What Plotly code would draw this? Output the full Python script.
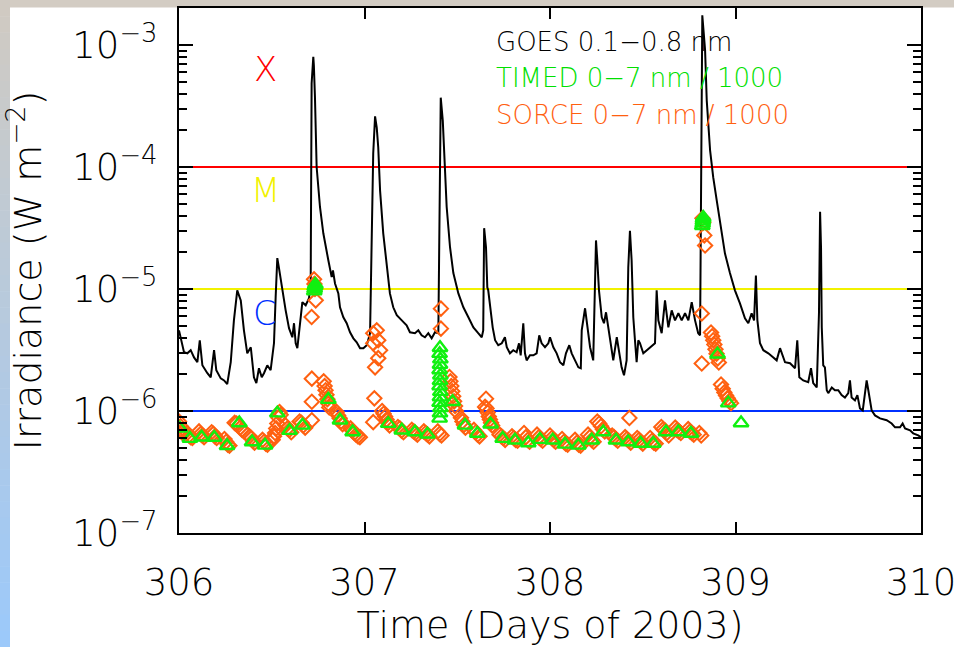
import math
import plotly.graph_objects as go

# ---------------- data ----------------
goes_day = [306.000, 306.018, 306.027, 306.045, 306.063, 306.081, 306.099, 306.112, 306.126, 306.153,
            306.171, 306.189, 306.201, 306.225, 306.243, 306.260, 306.279, 306.296, 306.314, 306.333,
            306.350, 306.368, 306.387, 306.404, 306.417, 306.431, 306.446, 306.458, 306.476, 306.494,
            306.512, 306.521, 306.530, 306.539, 306.557, 306.575, 306.593, 306.611, 306.620, 306.629,
            306.638, 306.647, 306.656, 306.665, 306.683, 306.701, 306.710, 306.713, 306.715, 306.724,
            306.727, 306.733, 306.742, 306.760, 306.778, 306.805, 306.823, 306.830, 306.841, 306.859,
            306.868, 306.886, 306.904, 306.922, 306.940, 306.958, 306.976, 306.994, 307.012, 307.030,
            307.039, 307.047, 307.057, 307.066, 307.074, 307.084, 307.101, 307.120, 307.137, 307.155,
            307.174, 307.201, 307.227, 307.245, 307.272, 307.290, 307.308, 307.326, 307.344, 307.362,
            307.380, 307.398, 307.403, 307.411, 307.422, 307.434, 307.443, 307.461, 307.479, 307.506,
            307.533, 307.560, 307.587, 307.613, 307.632, 307.640, 307.645, 307.655, 307.662, 307.667,
            307.677, 307.691, 307.704, 307.721, 307.740, 307.757, 307.767, 307.784, 307.802, 307.820,
            307.833, 307.842, 307.856, 307.865, 307.874, 307.892, 307.910, 307.928, 307.942, 307.955,
            307.973, 307.991, 308.000, 308.018, 308.036, 308.054, 308.072, 308.086, 308.104, 308.117,
            308.135, 308.153, 308.166, 308.171, 308.189, 308.198, 308.216, 308.233, 308.243, 308.248,
            308.255, 308.264, 308.279, 308.291, 308.302, 308.314, 308.327, 308.341, 308.360, 308.374,
            308.386, 308.399, 308.413, 308.422, 308.431, 308.440, 308.449, 308.458, 308.467, 308.476,
            308.485, 308.503, 308.521, 308.539, 308.566, 308.575, 308.584, 308.602, 308.620, 308.638,
            308.656, 308.674, 308.692, 308.710, 308.728, 308.746, 308.764, 308.782, 308.799, 308.809,
            308.814, 308.821, 308.836, 308.845, 308.863, 308.880, 308.899, 308.916, 308.943, 308.970,
            308.997, 309.024, 309.051, 309.069, 309.087, 309.100, 309.110, 309.118, 309.132, 309.150,
            309.177, 309.204, 309.222, 309.240, 309.267, 309.294, 309.321, 309.333, 309.344, 309.365,
            309.392, 309.407, 309.419, 309.438, 309.450, 309.456, 309.461, 309.465, 309.473, 309.482,
            309.492, 309.500, 309.519, 309.536, 309.554, 309.572, 309.590, 309.608, 309.617, 309.626,
            309.644, 309.657, 309.671, 309.686, 309.698, 309.707, 309.716, 309.734, 309.752, 309.779,
            309.815, 309.842, 309.860, 309.887, 309.901, 309.914, 309.941, 309.958, 309.985, 310.000]
goes_flux = [4.58e-6, 3.59e-6, 3.03e-6, 2.97e-6, 3.15e-6, 2.75e-6, 2.51e-6, 3.80e-6, 2.37e-6, 2.04e-6,
             1.89e-6, 3.15e-6, 2.16e-6, 1.85e-6, 1.78e-6, 1.66e-6, 2.51e-6, 5.53e-6, 9.75e-6, 8.07e-6,
             4.58e-6, 2.97e-6, 3.33e-6, 1.89e-6, 1.69e-6, 2.24e-6, 1.89e-6, 2.04e-6, 2.37e-6, 2.16e-6,
             3.59e-6, 8.55e-6, 1.79e-5, 1.48e-5, 9.75e-6, 6.68e-6, 4.77e-6, 4.02e-6, 5.24e-6, 3.59e-6,
             3.27e-6, 4.34e-6, 6.32e-6, 7.80e-6, 7.35e-6, 8.40e-6, 1.18e-5, 5.00e-5, 4.85e-4, 8.00e-4,
             6.80e-4, 3.70e-4, 1.00e-4, 4.70e-5, 2.86e-5, 1.72e-5, 1.25e-5, 1.42e-5, 1.11e-5, 9.20e-6,
             7.08e-6, 5.86e-6, 5.24e-6, 4.42e-6, 3.94e-6, 3.66e-6, 3.27e-6, 3.27e-6, 3.46e-6, 4.34e-6,
             2.20e-5, 1.29e-4, 2.60e-4, 2.10e-4, 1.45e-4, 6.40e-5, 2.86e-5, 1.50e-5, 9.20e-6, 7.08e-6,
             6.09e-6, 5.53e-6, 5.04e-6, 4.42e-6, 4.34e-6, 4.58e-6, 4.17e-6, 4.02e-6, 4.34e-6, 3.94e-6,
             4.42e-6, 4.34e-6, 2.50e-5, 3.70e-4, 2.40e-4, 1.00e-4, 4.70e-5, 2.20e-5, 1.35e-5, 9.20e-6,
             7.08e-6, 5.86e-6, 4.85e-6, 4.34e-6, 4.02e-6, 4.58e-6, 3.15e-5, 2.20e-5, 1.03e-5, 9.75e-6,
             7.08e-6, 4.85e-6, 3.80e-6, 3.46e-6, 3.59e-6, 4.02e-6, 3.33e-6, 2.97e-6, 3.15e-6, 3.03e-6,
             3.59e-6, 2.86e-6, 5.24e-6, 2.97e-6, 2.60e-6, 2.86e-6, 2.86e-6, 2.97e-6, 4.17e-6, 3.59e-6,
             3.33e-6, 3.59e-6, 4.02e-6, 3.33e-6, 2.97e-6, 2.51e-6, 2.37e-6, 2.97e-6, 3.46e-6, 2.97e-6,
             2.60e-6, 2.28e-6, 2.24e-6, 4.58e-6, 6.95e-6, 5.53e-6, 3.33e-6, 2.60e-6, 9.75e-6, 2.50e-5,
             1.72e-5, 9.75e-6, 5.86e-6, 5.24e-6, 6.44e-6, 4.85e-6, 3.80e-6, 2.60e-6, 4.02e-6, 2.97e-6,
             2.28e-6, 1.96e-6, 2.60e-6, 1.50e-5, 3.00e-5, 1.72e-5, 5.86e-6, 3.80e-6, 2.51e-6, 3.80e-6,
             3.59e-6, 2.97e-6, 3.15e-6, 3.33e-6, 3.59e-6, 9.75e-6, 5.53e-6, 4.34e-6, 8.07e-6, 4.85e-6,
             6.68e-6, 5.53e-6, 6.32e-6, 5.53e-6, 6.32e-6, 5.53e-6, 7.80e-6, 5.53e-6, 4.34e-6, 4.17e-6,
             5.30e-5, 1.75e-3, 9.10e-4, 3.50e-4, 1.37e-4, 8.20e-5, 5.30e-5, 3.65e-5, 1.96e-5, 1.35e-5,
             9.75e-6, 7.63e-6, 5.75e-6, 5.24e-6, 6.32e-6, 5.53e-6, 1.29e-5, 5.53e-6, 3.59e-6, 3.15e-6,
             2.97e-6, 2.75e-6, 2.60e-6, 3.27e-6, 2.51e-6, 2.46e-6, 2.24e-6, 3.80e-6, 1.89e-6, 1.78e-6,
             1.72e-6, 2.24e-6, 1.69e-6, 1.56e-6, 6.32e-6, 4.30e-5, 2.20e-5, 4.85e-6, 2.37e-6, 2.28e-6,
             1.48e-6, 1.40e-6, 1.56e-6, 1.48e-6, 1.48e-6, 1.35e-6, 1.29e-6, 1.40e-6, 1.78e-6, 1.29e-6,
             1.22e-6, 1.35e-6, 1.05e-6, 1.01e-6, 1.48e-6, 1.78e-6, 1.48e-6, 1.01e-6, 9.20e-7, 8.70e-7,
             8.40e-7, 7.90e-7, 7.35e-7, 7.35e-7, 7.90e-7, 7.20e-7, 6.95e-7, 6.56e-7, 6.32e-7, 6.10e-7]

timed_day = [306.005, 306.059, 306.122, 306.190, 306.259, 306.325, 306.394, 306.464, 306.530, 306.596,
             306.666, 306.729, 306.731, 306.732, 306.734, 306.735,
             306.805, 306.868, 306.936, 307.128, 307.201, 307.272, 307.339,
             307.405, 307.407, 307.409, 307.405, 307.407, 307.409, 307.405, 307.407, 307.409, 307.405,
             307.407, 307.409, 307.405, 307.407,
             307.475, 307.542, 307.608, 307.680, 307.745, 307.811, 307.883, 307.946, 308.015, 308.081,
             308.153, 308.225, 308.287, 308.356, 308.422, 308.489, 308.557, 308.625, 308.692, 308.760,
             308.821, 308.823, 308.824, 308.825, 308.826,
             308.903, 308.961, 309.030]
timed_flux = [7.20e-7, 5.94e-7, 6.10e-7, 6.06e-7, 5.19e-7, 7.97e-7, 5.57e-7, 5.23e-7, 9.60e-7, 6.90e-7,
              7.63e-7, 9.60e-6, 1.00e-5, 1.04e-5, 1.07e-5, 1.09e-5,
              1.24e-6, 8.39e-7, 6.73e-7, 7.88e-7, 6.95e-7, 6.73e-7, 6.44e-7,
              8.70e-7, 9.60e-7, 1.06e-6, 1.17e-6, 1.30e-6, 1.44e-6, 1.60e-6, 1.77e-6, 1.96e-6, 2.17e-6,
              2.40e-6, 2.66e-6, 2.95e-6, 3.30e-6,
              1.19e-6, 7.63e-7, 6.53e-7, 7.78e-7, 5.94e-7, 5.75e-7, 5.47e-7, 5.83e-7, 5.75e-7, 5.33e-7,
              5.23e-7, 5.75e-7, 6.73e-7, 5.75e-7, 5.57e-7, 5.41e-7, 5.41e-7, 6.73e-7, 6.73e-7, 6.53e-7,
              3.30e-5, 3.45e-5, 3.60e-5, 3.75e-5, 3.85e-5,
              2.92e-6, 1.16e-6, 7.97e-7]

sorce_day = [306.000, 306.008, 306.016, 306.024,
             306.045, 306.054, 306.063, 306.072,
             306.108, 306.117, 306.126, 306.135,
             306.176, 306.185, 306.194, 306.203,
             306.245, 306.254, 306.263, 306.272,
             306.300, 306.310, 306.320, 306.330, 306.340, 306.350,
             306.380, 306.389, 306.398, 306.407,
             306.450, 306.459, 306.468, 306.477,
             306.505, 306.512, 306.518, 306.524, 306.530, 306.536, 306.542, 306.548,
             306.575, 306.585, 306.595, 306.605,
             306.650, 306.660, 306.670, 306.680,
             306.716, 306.716, 306.716, 306.715, 306.737, 306.728, 306.730, 306.733,
             306.780, 306.785, 306.790, 306.795, 306.800, 306.805, 306.810,
             306.850, 306.858, 306.866, 306.874, 306.882,
             306.925, 306.935, 306.945, 306.955, 306.965, 306.975,
             307.066, 307.047, 307.074, 307.047, 307.084, 307.074, 307.057, 307.053, 307.047,
             307.095, 307.103, 307.111, 307.119, 307.127, 307.135,
             307.180, 307.190, 307.200, 307.210,
             307.255, 307.265, 307.275, 307.285,
             307.320, 307.330, 307.340, 307.350,
             307.395, 307.405, 307.415, 307.412, 307.412,
             307.458, 307.463, 307.468, 307.473, 307.478, 307.483, 307.488, 307.493,
             307.520, 307.528, 307.536, 307.544,
             307.590, 307.600, 307.610, 307.620,
             307.655, 307.650, 307.658, 307.664, 307.670, 307.676, 307.682, 307.688,
             307.728, 307.738, 307.748, 307.758,
             307.795, 307.805, 307.815, 307.825,
             307.860, 307.870, 307.880, 307.890,
             307.930, 307.940, 307.950, 307.960,
             308.000, 308.010, 308.020, 308.030,
             308.065, 308.075, 308.085, 308.095,
             308.135, 308.145, 308.155, 308.165,
             308.205, 308.215, 308.225, 308.235,
             308.255, 308.265, 308.275, 308.285, 308.295,
             308.335, 308.345, 308.355, 308.365,
             308.405, 308.415, 308.425, 308.435, 308.428,
             308.470, 308.480, 308.490, 308.500,
             308.540, 308.550, 308.560, 308.570,
             308.600, 308.610, 308.620, 308.630, 308.640,
             308.675, 308.685, 308.695, 308.705,
             308.745, 308.755, 308.765, 308.775, 308.805, 308.815,
             308.822, 308.826, 308.832, 308.836, 308.818, 308.818,
             308.868, 308.874, 308.880, 308.886, 308.892, 308.898, 308.904, 308.910,
             308.922, 308.931, 308.940, 308.949, 308.958, 308.967, 308.976]
sorce_flux = [8.2e-7, 7.5e-7, 6.9e-7, 6.5e-7,
              6.6e-7, 6.3e-7, 6.1e-7, 6.0e-7,
              6.8e-7, 6.5e-7, 6.3e-7, 6.1e-7,
              6.7e-7, 6.5e-7, 6.2e-7, 6.0e-7,
              5.9e-7, 5.6e-7, 5.3e-7, 5.2e-7,
              8.0e-7, 7.9e-7, 7.6e-7, 7.3e-7, 7.0e-7, 6.8e-7,
              6.2e-7, 6.0e-7, 5.7e-7, 5.5e-7,
              5.8e-7, 5.6e-7, 5.4e-7, 5.3e-7,
              5.8e-7, 6.2e-7, 6.6e-7, 7.2e-7, 7.9e-7, 8.8e-7, 9.8e-7, 9.3e-7,
              7.6e-7, 7.2e-7, 7.0e-7, 6.7e-7,
              8.2e-7, 8.0e-7, 7.6e-7, 7.3e-7,
              8.4e-7, 1.19e-6, 1.84e-6, 5.9e-6, 8.07e-6, 1.2e-5, 1.1e-5, 1.0e-5,
              1.75e-6, 1.6e-6, 1.48e-6, 1.36e-6, 1.25e-6, 1.15e-6, 1.07e-6,
              9.8e-7, 9.2e-7, 8.7e-7, 8.2e-7, 7.8e-7,
              7.2e-7, 6.9e-7, 6.6e-7, 6.4e-7, 6.2e-7, 6.1e-7,
              4.58e-6, 4.34e-6, 3.8e-6, 3.59e-6, 3.15e-6, 2.71e-6, 2.28e-6, 1.27e-6, 8.1e-7,
              1.0e-6, 9.5e-7, 9.0e-7, 8.5e-7, 8.0e-7, 7.6e-7,
              7.4e-7, 7.2e-7, 6.9e-7, 6.7e-7,
              7.0e-7, 6.8e-7, 6.6e-7, 6.4e-7,
              6.8e-7, 6.6e-7, 6.4e-7, 6.2e-7,
              6.8e-7, 6.5e-7, 6.3e-7, 6.9e-6, 4.73e-6,
              1.9e-6, 1.75e-6, 1.6e-6, 1.45e-6, 1.32e-6, 1.2e-6, 1.1e-6, 1.0e-6,
              8.8e-7, 8.2e-7, 7.7e-7, 7.3e-7,
              7.0e-7, 6.7e-7, 6.4e-7, 6.2e-7,
              1.26e-6, 1.08e-6, 1.05e-6, 9.7e-7, 9.0e-7, 8.5e-7, 8.0e-7, 7.6e-7,
              6.4e-7, 6.2e-7, 6.0e-7, 5.8e-7,
              6.2e-7, 6.0e-7, 5.8e-7, 5.7e-7,
              6.6e-7, 6.1e-7, 5.8e-7, 5.6e-7,
              6.4e-7, 6.1e-7, 5.9e-7, 5.7e-7,
              6.3e-7, 6.0e-7, 5.8e-7, 5.6e-7,
              5.9e-7, 5.6e-7, 5.4e-7, 5.3e-7,
              5.8e-7, 5.5e-7, 5.3e-7, 5.2e-7,
              6.4e-7, 6.1e-7, 5.8e-7, 5.6e-7,
              8.2e-7, 7.9e-7, 7.5e-7, 7.1e-7, 6.8e-7,
              6.3e-7, 6.1e-7, 5.9e-7, 5.7e-7,
              6.1e-7, 5.9e-7, 5.7e-7, 5.5e-7, 8.77e-7,
              6.0e-7, 5.8e-7, 5.6e-7, 5.4e-7,
              6.0e-7, 5.7e-7, 5.5e-7, 5.4e-7,
              7.4e-7, 7.1e-7, 6.9e-7, 6.6e-7, 6.3e-7,
              7.3e-7, 7.0e-7, 6.8e-7, 6.6e-7,
              7.1e-7, 6.8e-7, 6.6e-7, 6.4e-7, 6.6e-7, 6.3e-7,
              3.8e-5, 3.5e-5, 2.75e-5, 2.27e-5, 6.3e-6, 2.45e-6,
              4.4e-6, 4.1e-6, 3.8e-6, 3.5e-6, 3.2e-6, 2.95e-6, 2.7e-6, 2.5e-6,
              1.65e-6, 1.52e-6, 1.42e-6, 1.34e-6, 1.27e-6, 1.21e-6, 1.16e-6]

class_levels = [1e-4, 1e-5, 1e-6]
class_colors = ["#ff0000", "#f2f200", "#0030ff"]
class_names = ["X", "M", "C"]
class_label_y = [6.3e-4, 6.45e-5, 6.3e-6]

x_range = [306, 310]
x_tickvals = [306, 307, 308, 309, 310]
y_tickvals = [1e-7, 1e-6, 1e-5, 1e-4, 1e-3]
y_ticktext = ["10<sup>\u22127</sup>", "10<sup>\u22126</sup>", "10<sup>\u22125</sup>",
              "10<sup>\u22124</sup>", "10<sup>\u22123</sup>"]

legend_texts = ["GOES 0.1\u22120.8 nm", "TIMED 0\u22127 nm / 1000", "SORCE 0\u22127 nm / 1000"]
legend_colors = ["#000000", "#00e000", "#ff6010"]
legend_y = [1.05e-3, 5.33e-4, 2.65e-4]

FONT = "DejaVu Sans"
FW = 200
ORANGE = "#ff6010"
GREEN = "#10f010"

fig = go.Figure()

for lvl, col in zip(class_levels, class_colors):
    fig.add_trace(go.Scatter(x=x_range, y=[lvl, lvl], mode="lines",
                             line=dict(color=col, width=2), showlegend=False, hoverinfo="skip"))

fig.add_trace(go.Scatter(x=goes_day, y=goes_flux, mode="lines",
                         line=dict(color="black", width=2), showlegend=False))
fig.add_trace(go.Scatter(x=sorce_day, y=sorce_flux, mode="markers",
                         marker=dict(symbol="diamond-open", size=11, color=ORANGE,
                                     line=dict(color=ORANGE, width=2)), showlegend=False))
fig.add_trace(go.Scatter(x=timed_day, y=timed_flux, mode="markers",
                         marker=dict(symbol="triangle-up-open", size=13, color=GREEN,
                                     line=dict(color=GREEN, width=2.4)), showlegend=False))

minor_vals = [m * 10.0 ** e for e in range(-7, -2) for m in range(2, 10)]

fig.update_xaxes(range=x_range, tickvals=x_tickvals, ticks="inside", ticklen=11, tickwidth=2,
                 tickcolor="black", showline=True, linecolor="black", linewidth=2,
                 mirror="allticks", showgrid=False, zeroline=False, ticklabeloverflow="allow",
                 tickfont=dict(family=FONT, size=37, color="black", weight=FW), ticklabelstandoff=16,
                 title=dict(text="Time (Days of 2003)",
                            font=dict(family=FONT, size=38, color="black", weight=FW), standoff=9))
fig.update_yaxes(type="log", range=[-7, -2.697], tickvals=y_tickvals, ticktext=y_ticktext,
                 ticks="inside", ticklen=14, tickwidth=2, tickcolor="black",
                 minor=dict(tickvals=minor_vals, ticks="inside", ticklen=8, tickwidth=2,
                            tickcolor="black", showgrid=False),
                 showline=True, linecolor="black", linewidth=2, mirror="allticks",
                 showgrid=False, zeroline=False,
                 tickfont=dict(family=FONT, size=37, color="black", weight=FW), ticklabelstandoff=12,
                 title=dict(text="Irradiance (W m<sup>\u22122</sup>)",
                            font=dict(family=FONT, size=38, color="black", weight=FW), standoff=22))

annotations = []
for name, col, yv in zip(class_names, class_colors, class_label_y):
    annotations.append(dict(x=306.465, y=math.log10(yv), xref="x", yref="y",
                            text=name, showarrow=False,
                            font=dict(family=FONT, size=34, color=col, weight=FW)))
for txt, col, yv in zip(legend_texts, legend_colors, legend_y):
    annotations.append(dict(x=307.70, y=math.log10(yv), xref="x", yref="y",
                            xanchor="left", text=txt, showarrow=False,
                            font=dict(family=FONT, size=26, color=col, weight=FW)))

# page decoration: top grey strip and left gradient strip
W, H, L, R, T, B = 954, 647, 179, 33, 8, 114
pw, ph = W - L - R, H - T - B
def px(xp):
    return (xp - L) / pw
def py(yp):
    return (H - B - yp) / ph
shapes = [dict(type="rect", xref="paper", yref="paper", x0=px(0), x1=px(W), y0=py(7.5), y1=py(0),
               fillcolor="#d3ccc3", line=dict(width=0), layer="below")]
n = 40
c0 = (208, 202, 194)
c1 = (156, 201, 250)
for i in range(n):
    t = i / (n - 1)
    col = "rgb(%d,%d,%d)" % tuple(round(a + (b - a) * t) for a, b in zip(c0, c1))
    shapes.append(dict(type="rect", xref="paper", yref="paper", x0=px(0), x1=px(10),
                       y0=py(i * H / n + H / n + 0.5), y1=py(i * H / n),
                       fillcolor=col, line=dict(width=0), layer="below"))

fig.update_layout(width=W, height=H, margin=dict(l=L, r=R, t=T, b=B, autoexpand=False),
                  paper_bgcolor="white", plot_bgcolor="white", showlegend=False,
                  annotations=annotations, shapes=shapes)

fig.write_html("out.html")
